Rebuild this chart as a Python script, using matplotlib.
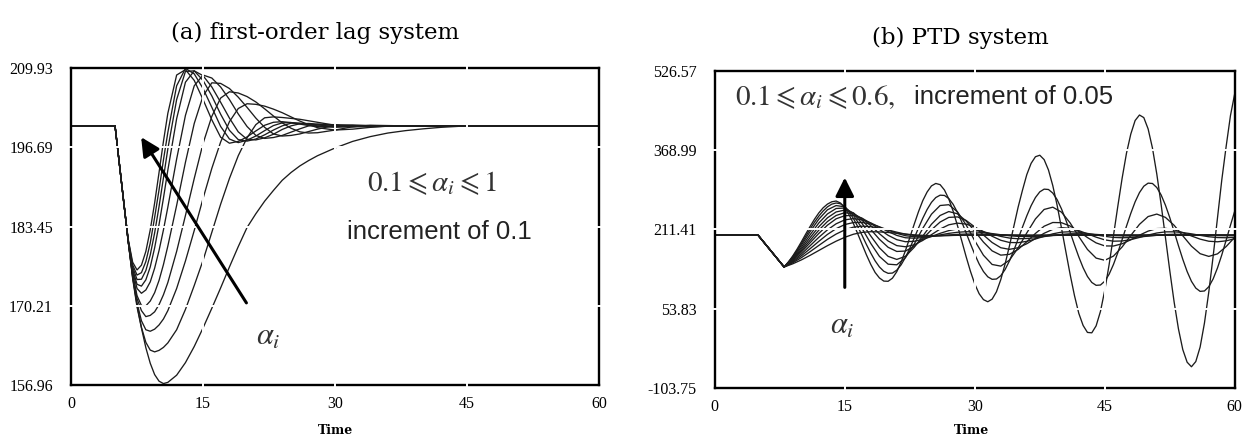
import matplotlib
matplotlib.use("Agg")
import matplotlib.pyplot as plt

plt.rcParams['mathtext.fontset'] = 'stix'

# ---------------- panel (a): first-order lag system ----------------
t_a = [0, 5, 5.5, 6, 6.5, 7, 7.5, 8, 8.5, 9, 9.5, 10, 10.5, 11, 12, 13, 14, 15, 16, 17, 18,
       19, 20, 21, 22, 23, 24, 25, 26, 27, 28, 30, 32, 34, 36, 38, 40, 42, 45, 50, 60]

lag_a100 = [200.3, 200.3, 193.85, 187.4, 181.3, 177.5, 176.2, 177.0, 179.3, 182.9, 187.4, 192.5, 197.7, 202.4,
            208.8, 209.7, 207.9, 204.7, 201.3, 198.4, 197.4, 197.7, 198.45, 199.45, 200.4, 200.9, 201.0, 200.85,
            200.6, 200.35, 200.2, 200.1, 200.25, 200.3, 200.3, 200.3, 200.3, 200.3, 200.3, 200.3, 200.3]
lag_a090 = [200.3, 200.3, 193.85, 187.4, 181.2, 177.05, 175.35, 175.75, 177.6, 180.7, 185.0, 189.6, 194.6, 199.2,
            207.0, 209.9, 209.0, 206.55, 203.4, 200.2, 198.1, 197.5, 197.9, 198.6, 199.5, 200.35, 200.8, 200.85,
            200.7, 200.5, 200.3, 200.1, 200.2, 200.3, 200.3, 200.3, 200.3, 200.3, 200.3, 200.3, 200.3]
lag_a080 = [200.3, 200.3, 193.85, 187.4, 181.1, 176.7, 174.6, 174.65, 176.1, 178.7, 182.4, 186.8, 191.6, 196.45,
            204.7, 209.4, 209.5, 207.9, 205.3, 202.25, 199.55, 198.0, 197.75, 198.1, 198.8, 199.6, 200.3, 200.75,
            200.75, 200.6, 200.45, 200.2, 200.2, 200.3, 200.3, 200.3, 200.3, 200.3, 200.3, 200.3, 200.3]
lag_a070 = [200.3, 200.3, 193.85, 187.4, 180.95, 176.3, 173.8, 173.5, 174.55, 176.7, 179.9, 183.8, 188.2, 192.9,
            201.5, 207.6, 209.5, 208.7, 206.8, 204.25, 201.6, 199.3, 198.05, 197.95, 198.3, 198.9, 199.7, 200.3,
            200.65, 200.7, 200.6, 200.35, 200.2, 200.25, 200.3, 200.3, 200.3, 200.3, 200.3, 200.3, 200.3]
lag_a060 = [200.3, 200.3, 193.85, 187.4, 180.95, 176.0, 173.1, 172.3, 172.85, 174.2, 176.5, 179.45, 182.9, 186.7,
            194.75, 202.05, 207.0, 208.8, 208.3, 206.8, 204.7, 202.3, 200.2, 198.7, 198.2, 198.35, 198.7, 199.25,
            199.8, 200.3, 200.55, 200.5, 200.35, 200.25, 200.3, 200.3, 200.3, 200.3, 200.3, 200.3, 200.3]
lag_a050 = [200.3, 200.3, 193.85, 187.4, 180.9, 175.5, 171.9, 170.25, 170.2, 171.0, 172.4, 174.45, 177.1, 180.2,
            187.0, 194.2, 200.7, 205.3, 207.5, 207.4, 206.55, 205.1, 203.4, 201.6, 200.05, 198.95, 198.6, 198.7,
            198.95, 199.35, 199.75, 200.4, 200.45, 200.35, 200.3, 200.3, 200.3, 200.3, 200.3, 200.3, 200.3]
lag_a040 = [200.3, 200.3, 193.85, 187.4, 180.9, 175.4, 171.4, 169.4, 168.4, 168.6, 169.2, 170.4, 172.05, 174.1,
            179.3, 185.3, 191.5, 197.35, 201.9, 204.95, 206.0, 205.8, 205.2, 204.3, 203.15, 201.95, 200.8, 199.9,
            199.3, 199.1, 199.15, 199.6, 200.15, 200.4, 200.35, 200.3, 200.3, 200.3, 200.3, 200.3, 200.3]
lag_a030 = [200.3, 200.3, 193.85, 187.4, 180.95, 175.1, 170.7, 167.7, 166.2, 165.95, 166.3, 167.0, 168.0, 169.4,
            173.1, 177.7, 182.8, 188.15, 193.2, 197.6, 201.0, 203.2, 204.0, 203.9, 203.6, 203.1, 202.5, 201.8,
            201.1, 200.5, 200.0, 199.6, 199.75, 200.05, 200.25, 200.3, 200.3, 200.3, 200.3, 200.3, 200.3]
lag_a020 = [200.3, 200.3, 193.85, 187.4, 180.95, 175.0, 170.3, 166.6, 164.1, 162.8, 162.5, 162.75, 163.25, 164.0,
            166.2, 169.6, 173.6, 177.8, 182.5, 187.2, 191.5, 195.3, 198.3, 200.5, 201.65, 201.8, 201.7, 201.55,
            201.4, 201.15, 200.9, 200.4, 200.15, 200.15, 200.25, 200.3, 200.3, 200.3, 200.3, 200.3, 200.3]
lag_a010 = [200.3, 200.3, 193.85, 187.4, 181.0, 174.8, 170.0, 166.5, 163.2, 160.6, 158.7, 157.6, 157.2, 157.4,
            158.6, 160.7, 163.4, 166.5, 169.8, 173.2, 176.7, 180.1, 183.3, 185.6, 187.7, 189.5, 191.2, 192.5,
            193.6, 194.5, 195.3, 196.6, 197.7, 198.5, 199.1, 199.5, 199.8, 200.05, 200.3, 200.3, 200.3]

yticks_a = [156.96, 170.21, 183.45, 196.69, 209.93]
xticks = [0, 15, 30, 45, 60]

# ---------------- panel (b): PTD system ----------------
t_b = [0, 5, 6, 7, 8, 9, 10, 11, 12, 13, 14, 15, 16, 17, 18, 19, 20, 21, 22, 23, 24, 25, 26, 27, 28,
       29, 30, 31, 32, 33, 34, 35, 36, 37, 38, 39, 40, 41, 42, 43, 44, 45, 46, 47, 48, 49, 50, 51, 52,
       53, 54, 55, 56, 57, 58, 59, 60]

t_b_fine = [0, 5, 6, 7,
            8, 8.5, 9, 9.5, 10, 10.5, 11, 11.5, 12, 12.5,
            13, 13.5, 14, 14.5, 15, 15.5, 16, 16.5, 17, 17.5,
            18, 18.5, 19, 19.5, 20, 20.5, 21, 21.5, 22, 22.5,
            23, 23.5, 24, 24.5, 25, 25.5, 26, 26.5, 27, 27.5,
            28, 28.5, 29, 29.5, 30, 30.5, 31, 31.5, 32, 32.5,
            33, 33.5, 34, 34.5, 35, 35.5, 36, 36.5, 37, 37.5,
            38, 38.5, 39, 39.5, 40, 40.5, 41, 41.5, 42, 42.5,
            43, 43.5, 44, 44.5, 45, 45.5, 46, 46.5, 47, 47.5,
            48, 48.5, 49, 49.5, 50, 50.5, 51, 51.5, 52, 52.5,
            53, 53.5, 54, 54.5, 55, 55.5, 56, 56.5, 57, 57.5,
            58, 58.5, 59, 59.5, 60]

ptd_a060 = [200, 200, 179, 158,
            137.0, 147.1, 158.9, 172.5, 187.2, 202.5, 217.4, 231.7, 244.2, 254.4,
            261.8, 266.4, 267.9, 264.0, 254.7, 240.6, 223.0, 202.7, 181.8, 161.0,
            142.1, 126.1, 115.2, 109.0, 108.6, 114.8, 127.7, 146.6, 169.4, 195.2,
            221.3, 246.5, 268.7, 285.8, 297.9, 302.8, 300.4, 289.8, 272.0, 247.8,
            219.3, 188.6, 157.5, 128.4, 103.2, 84.0, 72.2, 68.0, 73.2, 87.8,
            111.9, 143.1, 178.9, 217.3, 255.7, 289.2, 320.3, 342.7, 355.8, 358.8,
            350.1, 329.6, 298.5, 259.5, 214.6, 168.2, 122.2, 80.4, 45.0, 20.9,
            7.1, 6.3, 20.2, 48.8, 90.9, 141.7, 199.0, 257.2, 313.1, 362.6,
            400.8, 427.7, 438.6, 433.5, 411.0, 373.0, 321.5, 261.0, 195.5, 129.5,
            67.5, 14.0, -27.0, -52.0, -61.0, -50.7, -21.9, 25.8, 87.4, 158.1,
            234.0, 309.9, 376.0, 437.5, 481.8]
ptd_a055 = [200, 200, 179, 158,
            137.0, 146.4, 157.6, 170.1, 183.7, 198.1, 212.3, 225.8, 237.8, 248.1,
            256.3, 261.7, 264.0, 262.5, 256.6, 246.5, 233.1, 217.1, 199.5, 181.5,
            164.6, 149.2, 137.0, 128.5, 124.4, 124.9, 130.7, 141.3, 156.1, 173.9,
            193.9, 214.2, 233.7, 251.1, 265.2, 274.8, 279.5, 279.0, 272.8, 261.4,
            245.4, 226.2, 204.7, 182.9, 161.9, 143.1, 128.0, 117.5, 112.5, 113.1,
            119.7, 132.0, 149.1, 169.6, 192.6, 216.0, 238.5, 258.7, 274.9, 286.1,
            291.5, 290.8, 283.7, 270.7, 252.4, 230.6, 206.0, 181.0, 157.0, 135.5,
            118.2, 106.3, 100.6, 101.2, 108.8, 122.6, 142.0, 165.3, 191.4, 217.9,
            243.4, 266.3, 284.6, 297.3, 303.4, 302.7, 294.7, 280.0, 259.5, 234.9,
            207.2, 179.2, 152.2, 128.0, 108.5, 95.1, 88.6, 89.4, 97.8, 113.3,
            135.0, 161.0, 190.1, 219.8, 248.3]
ptd_a050 = [200, 200, 179, 158, 137,
            156.2, 180.4, 207.2, 231.7, 250.5, 258.9, 256.4, 239.6, 213.3, 183.7,
            158.0, 142.6, 141.3, 155.6, 182.1, 213.7, 241.7, 259.0, 260.6, 246.5,
            220.5, 189.0, 160.3, 142.0, 138.7, 150.6, 174.8, 204.6, 232.4, 251.2,
            255.7, 245.9, 224.5, 197.5, 171.8, 154.6, 150.3, 158.6, 176.7, 199.6,
            221.6, 237.1, 242.0, 235.4, 219.7, 198.9, 178.3, 163.4, 158.0, 163.0,
            177.5, 196.0]
ptd_a045 = [200, 200, 179, 158, 137,
            154.5, 176.4, 201.0, 224.2, 242.3, 253.1, 254.0, 243.4, 223.2, 198.5,
            175.0, 158.1, 152.0, 158.1, 175.8, 198.3, 221.8, 239.2, 247.0, 242.6,
            228.3, 207.8, 186.4, 169.0, 160.5, 162.1, 171.9, 187.1, 203.6, 217.9,
            225.3, 224.9, 218.3, 207.5, 195.4, 184.8, 178.8, 178.6, 183.1, 191.0,
            200.1, 208.2, 213.2, 213.7, 210.8, 205.2, 198.5, 192.3, 188.1, 187.0,
            188.9, 193.1]
ptd_a040 = [200, 200, 179, 158, 137,
            152.8, 172.8, 195.2, 216.8, 234.6, 246.2, 250.0, 244.4, 229.7, 211.5,
            191.9, 176.1, 167.8, 168.6, 177.9, 193.2, 210.8, 226.2, 235.4, 236.4,
            229.4, 216.4, 200.4, 185.6, 175.2, 172.0, 175.2, 183.1, 193.5, 203.9,
            211.7, 215.0, 213.6, 209.2, 202.8, 196.2, 190.8, 188.2, 188.6, 191.3,
            195.6, 200.4, 204.4, 206.7, 206.8, 205.3, 202.8, 199.8, 197.0, 195.4,
            195.0, 195.8]
ptd_a035 = [200, 200, 179, 158, 137,
            151.5, 169.6, 189.9, 210.0, 227.2, 239.2, 244.8, 242.6, 233.3, 219.0,
            203.0, 188.6, 179.4, 177.1, 181.0, 189.7, 201.1, 212.3, 220.7, 224.0,
            222.1, 216.1, 207.3, 198.0, 190.0, 185.6, 185.3, 187.9, 192.5, 197.9,
            202.8, 206.1, 207.0, 205.9, 203.6, 200.7, 197.8, 195.7, 195.0, 195.4,
            196.6, 198.2, 199.9, 201.3, 201.9, 201.8, 201.2, 200.5, 199.8, 199.3,
            199.0, 199.1]
ptd_a030 = [200, 200, 179, 158, 137,
            150.1, 166.7, 185.1, 203.5, 220.0, 232.6, 238.8, 239.3, 233.7, 223.8,
            211.6, 199.9, 191.2, 187.1, 188.0, 191.8, 197.5, 203.8, 209.2, 212.5,
            212.9, 210.8, 207.0, 202.3, 197.7, 194.4, 193.0, 193.5, 195.0, 197.3,
            199.7, 201.7, 202.9, 203.0, 202.5, 201.6, 200.5, 199.5, 198.8, 198.5,
            198.7, 199.2, 199.8, 200.3, 200.6, 200.7, 200.6, 200.4, 200.2, 200.0,
            199.9, 199.9]
ptd_a025 = [200, 200, 179, 158, 137,
            148.5, 162.9, 179.2, 195.8, 210.7, 222.7, 230.5, 233.0, 230.6, 224.5,
            216.2, 207.3, 199.7, 195.0, 194.1, 195.2, 197.6, 200.7, 203.7, 205.9,
            207.0, 206.6, 205.3, 203.3, 201.0, 199.0, 197.7, 197.5, 197.8, 198.5,
            199.4, 200.2, 200.8, 201.0, 200.9, 200.6, 200.2, 199.9, 199.7, 199.6,
            199.6, 199.7, 199.9, 200.0, 200.0, 200.0, 200.0, 200.0, 200.0, 200.0,
            200.0, 200.0]
ptd_a020 = [200, 200, 179, 158, 137,
            146.9, 159.3, 173.3, 187.8, 201.6, 213.0, 221.2, 225.2, 225.4, 222.2,
            216.7, 210.2, 203.8, 199.1, 197.0, 197.1, 197.9, 199.1, 200.6, 201.7,
            202.3, 202.5, 202.3, 201.7, 200.9, 200.1, 199.6, 199.3, 199.3, 199.5,
            199.8, 200.0, 200.2, 200.3, 200.3, 200.2, 200.1, 200.0, 200.0, 200.0,
            200.0, 200.0, 200.0, 200.0, 200.0, 200.0, 200.0, 200.0, 200.0, 200.0,
            200.0, 200.0]
ptd_a015 = [200, 200, 179, 158, 137,
            145.3, 155.6, 167.4, 179.7, 191.8, 202.3, 210.6, 216.1, 218.0, 217.0,
            214.3, 210.4, 206.1, 202.2, 199.5, 198.5, 198.6, 199.0, 199.5, 200.1,
            200.5, 200.7, 200.8, 200.7, 200.5, 200.3, 200.1, 200.0, 200.0, 200.0,
            200.0, 200.0, 200.0, 200.0, 200.0, 200.0, 200.0, 200.0, 200.0, 200.0,
            200.0, 200.0, 200.0, 200.0, 200.0, 200.0, 200.0, 200.0, 200.0, 200.0,
            200.0, 200.0]
ptd_a010 = [200, 200, 179, 158, 137,
            143.3, 151.1, 160.1, 169.7, 179.3, 188.2, 195.9, 202.0, 205.7, 207.0,
            206.6, 205.5, 204.0, 202.3, 200.8, 199.8, 199.3, 199.3, 199.5, 199.8,
            200.0, 200.0, 200.0, 200.0, 200.0, 200.0, 200.0, 200.0, 200.0, 200.0,
            200.0, 200.0, 200.0, 200.0, 200.0, 200.0, 200.0, 200.0, 200.0, 200.0,
            200.0, 200.0, 200.0, 200.0, 200.0, 200.0, 200.0, 200.0, 200.0, 200.0,
            200.0, 200.0]

yticks_b = [-103.75, 53.83, 211.41, 368.99, 526.57]

# ---------------- figure ----------------
fig = plt.figure(figsize=(12.42, 4.38), dpi=100)
axA = fig.add_axes([0.0572, 0.121, 0.4251, 0.7231])
axB = fig.add_axes([0.5755, 0.1135, 0.4187, 0.7251])

line_kw = dict(color='#1c1c1c', lw=0.95, solid_joinstyle='round')
for ys in [lag_a010, lag_a020, lag_a030, lag_a040, lag_a050, lag_a060, lag_a070, lag_a080, lag_a090, lag_a100]:
    axA.plot(t_a, ys, **line_kw)

for ys in [ptd_a010, ptd_a015, ptd_a020, ptd_a025, ptd_a030, ptd_a035, ptd_a040, ptd_a045, ptd_a050]:
    axB.plot(t_b, ys, **line_kw)
for ys in [ptd_a055, ptd_a060]:
    axB.plot(t_b_fine, ys, **line_kw)

serif = ['Liberation Serif', 'DejaVu Serif']
narrow = ['Liberation Sans Narrow', 'Liberation Sans', 'DejaVu Sans']

for ax, yt in [(axA, yticks_a), (axB, yticks_b)]:
    ax.set_xlim(0, 60)
    ax.set_ylim(yt[0], yt[-1])
    ax.set_xticks(xticks)
    ax.set_yticks(yt)
    ax.set_yticklabels(['%.2f' % v for v in yt])
    ax.tick_params(length=0, labelsize=11.5)
    ax.tick_params(axis='y', pad=13)
    ax.tick_params(axis='x', pad=8)
    for lab in ax.get_xticklabels() + ax.get_yticklabels():
        lab.set_family(serif)
    for sp in ax.spines.values():
        sp.set_linewidth(1.7)
        sp.set_color('black')
        sp.set_zorder(3)
    for x in xticks[1:-1]:
        ax.axvline(x, color='white', lw=1.4, zorder=4, ymin=-0.01, ymax=1.01, clip_on=False)
    for y in yt[1:-1]:
        ax.axhline(y, color='white', lw=1.4, zorder=4, xmin=-0.005, xmax=1.005, clip_on=False)

# titles and axis labels
fig.text(315 / 1242, 1 - 33 / 438, '(a) first-order lag system', ha='center', va='center',
         family='DejaVu Serif', fontsize=16.5)
fig.text(960 / 1242, 1 - 38 / 438, '(b) PTD system', ha='center', va='center',
         family='DejaVu Serif', fontsize=16.5)
fig.text(336 / 1242, 1 - 430 / 438, 'Time', ha='center', va='center', family='DejaVu Serif',
         fontsize=9, fontweight='bold')
fig.text(972 / 1242, 1 - 430 / 438, 'Time', ha='center', va='center', family='DejaVu Serif',
         fontsize=9, fontweight='bold')

# annotations panel (a)
axA.text(41.0, 190.7, r'$0.1\leqslant\alpha_i\leqslant1$', ha='center', va='center', fontsize=21,
         color='#333333', zorder=6)
axA.text(41.9, 182.6, 'increment of 0.1', ha='center', va='center', fontsize=18.5, family=narrow,
         color='#222222', zorder=6)
axA.text(22.4, 165.0, r'$\alpha_i$', ha='center', va='center', fontsize=22, color='#333333', zorder=6)
axA.annotate('', xy=(7.8, 198.8), xytext=(20.1, 170.3), zorder=6,
             arrowprops=dict(arrowstyle='-|>', lw=2.2, color='black', mutation_scale=28))

# annotations panel (b)
axB.text(2.3, 474.4, r'$0.1\leqslant\alpha_i\leqslant0.6,$', ha='left', va='center', fontsize=21,
         color='#333333', zorder=6)
axB.text(23.0, 474.4, 'increment of 0.05', ha='left', va='center', fontsize=18.5, family=narrow,
         color='#222222', zorder=6)
axB.text(14.7, 21.0, r'$\alpha_i$', ha='center', va='center', fontsize=22, color='#333333', zorder=6)
axB.annotate('', xy=(15, 320), xytext=(15, 91), zorder=6,
             arrowprops=dict(arrowstyle='-|>', lw=2.2, color='black', mutation_scale=28))

fig.savefig('out.png', dpi=100)
